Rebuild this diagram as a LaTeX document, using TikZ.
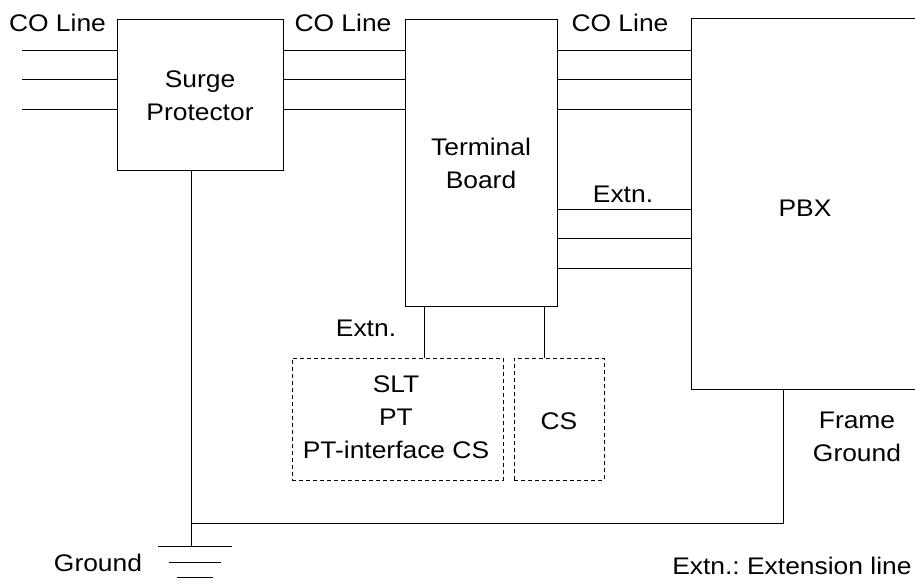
\documentclass[tikz,border=0pt]{standalone}
\usepackage{fontspec}
\setmainfont[FakeStretch=1.1]{Liberation Sans}
\frenchspacing
\begin{document}
\begin{tikzpicture}[x=1pt,y=-1pt,line width=1pt,
  txt/.style={inner sep=0pt,font=\fontsize{24}{33}\selectfont,align=center},
  box/.style={draw,rectangle,inner sep=0pt,txt},
  dbox/.style={draw,rectangle,inner sep=0pt,txt,dash pattern=on 4pt off 3pt,line width=0.9pt}]
\useasboundingbox (0,0) rectangle (915,584);
% boxes
\node[box,minimum width=166,minimum height=151] (sp) at (200,94.5) {};
\node[txt] at (200,96) {Surge\\Protector};
\node[box,minimum width=152,minimum height=287] (tb) at (481,162.5) {};
\node[txt] at (481,163) {Terminal\\Board};
\node[inner sep=0pt,minimum width=226,minimum height=370] (pbx) at (805,204) {};
\draw (pbx.north east) -- (pbx.north west) -- (pbx.south west) -- (pbx.south east);
\node[txt] at (805,208) {PBX};
\node[dbox,minimum width=211,minimum height=122] (d1) at (397.5,419) {};
\node[txt] at (396,417) {SLT\\PT\\PT-interface CS};
\node[dbox,minimum width=90,minimum height=122] (d2) at (559,419) {};
\node[txt] at (559,421) {CS};
% CO lines
\foreach \yy in {50,79,109}{
  \coordinate (in\yy) at (22,\yy);
  \draw (in\yy) -- (sp.west |- 0,\yy);
  \draw (sp.east |- 0,\yy) -- (tb.west |- 0,\yy);
  \draw (tb.east |- 0,\yy) -- (pbx.west |- 0,\yy);
}
\foreach \yy in {209,238,268}{
  \draw (tb.east |- 0,\yy) -- (pbx.west |- 0,\yy);
}
% extension drops
\draw (tb.south -| 424,0) -- (d1.north -| 424,0);
\draw (tb.south -| 544,0) -- (d2.north -| 544,0);
% ground
\coordinate (g) at (191,546);
\coordinate (gj) at (191,523);
\coordinate (fg) at (783,523);
\draw (sp.south -| g) -- (g);
\draw (gj) -- (fg) -- (pbx.south -| fg);
\draw (158,546) -- (232,546);
\draw (169,562) -- (221,562);
\draw (177,577) -- (213,577);
% labels
\node[txt] at (57.5,23) {CO Line};
\node[txt] at (343,23) {CO Line};
\node[txt] at (620,23) {CO Line};
\node[txt] at (623,194) {Extn.};
\node[txt] at (366,328) {Extn.};
\node[txt] at (857,437) {Frame\\Ground};
\node[txt] at (98,563) {Ground};
\node[txt,anchor=east] at (912,566) {Extn.: Extension line};
\end{tikzpicture}
\end{document}
